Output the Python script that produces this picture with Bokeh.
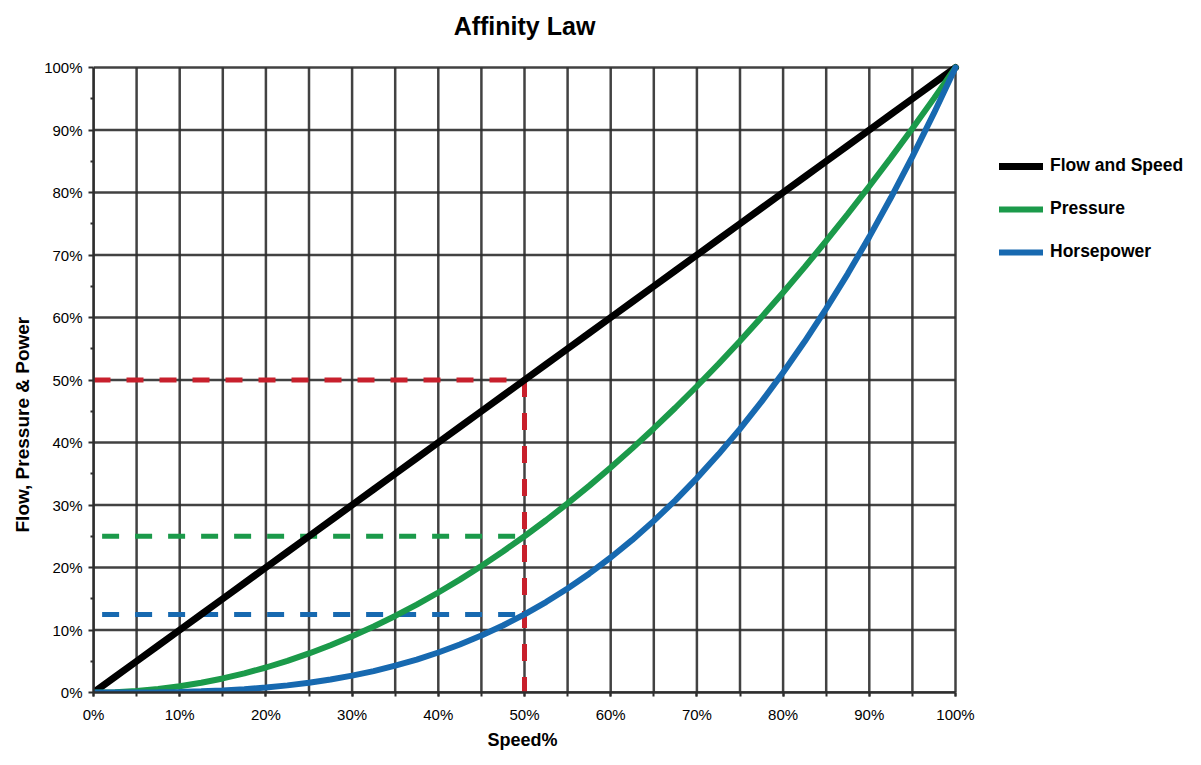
from bokeh.plotting import figure
from bokeh.models import Range1d, FixedTicker, Legend, LegendItem, Label, Title
from bokeh.embed import file_html
from bokeh.resources import INLINE

# ---- data ----
speed = [0, 2.5, 5, 7.5, 10, 12.5, 15, 17.5, 20, 22.5, 25, 27.5, 30, 32.5, 35, 37.5, 40, 42.5,
         45, 47.5, 50, 52.5, 55, 57.5, 60, 62.5, 65, 67.5, 70, 72.5, 75, 77.5, 80, 82.5, 85,
         87.5, 90, 92.5, 95, 97.5, 100]
flow = [0, 2.5, 5, 7.5, 10, 12.5, 15, 17.5, 20, 22.5, 25, 27.5, 30, 32.5, 35, 37.5, 40, 42.5,
        45, 47.5, 50, 52.5, 55, 57.5, 60, 62.5, 65, 67.5, 70, 72.5, 75, 77.5, 80, 82.5, 85,
        87.5, 90, 92.5, 95, 97.5, 100]
pressure = [0, 0.06, 0.25, 0.56, 1, 1.56, 2.25, 3.06, 4, 5.06, 6.25, 7.56, 9, 10.56, 12.25,
            14.06, 16, 18.06, 20.25, 22.56, 25, 27.56, 30.25, 33.06, 36, 39.06, 42.25, 45.56,
            49, 52.56, 56.25, 60.06, 64, 68.06, 72.25, 76.56, 81, 85.56, 90.25, 95.06, 100]
horsepower = [0, 0.002, 0.013, 0.042, 0.1, 0.195, 0.34, 0.54, 0.8, 1.14, 1.56, 2.08, 2.7, 3.43,
              4.29, 5.27, 6.4, 7.68, 9.11, 10.72, 12.5, 14.47, 16.64, 19.01, 21.6, 24.41, 27.46,
              30.75, 34.3, 38.11, 42.19, 46.54, 51.2, 56.15, 61.41, 66.99, 72.9, 79.15, 85.74,
              92.69, 100]

ref_speed = 50
ref_flow = 50
ref_pressure = 25
ref_hp = 12.5
ref_start = 1

x_ticks = [0, 10, 20, 30, 40, 50, 60, 70, 80, 90, 100]
x_grid = [0, 5, 10, 15, 20, 25, 30, 35, 40, 45, 50, 55, 60, 65, 70, 75, 80, 85, 90, 95, 100]
y_ticks = [0, 10, 20, 30, 40, 50, 60, 70, 80, 90, 100]
y_minor = [5, 15, 25, 35, 45, 55, 65, 75, 85, 95]
x_min, x_max = 0, 100
y_min, y_max = 0, 100

BLACK = "#000000"
GREEN = "#1b9a4a"
BLUE = "#1769b0"
RED = "#c8202c"
GRID = "#2e2e2e"
FONT = "Liberation Sans"

# ---- layout (pixels) ----
W, H = 1185, 757
LEFT, BOTTOM = 93, 65
PLOT_W, PLOT_H = 862, 625      # pixel size of the 0..100 % area
PLOT_TOP = 67                   # pixel row of the 100 % line
FRAME_W = W - LEFT              # frame runs to the right edge (legend inside)
FRAME_H = H - BOTTOM            # frame runs to the top edge (title inside)
x_end = 100 * FRAME_W / PLOT_W
y_end = 100 * FRAME_H / PLOT_H
px_y = 100 / PLOT_H             # data units per pixel, vertically
title_y = 100 + (PLOT_TOP - 25) * px_y

p = figure(width=W, height=H, output_backend="svg", toolbar_location=None,
           x_range=Range1d(0, x_end), y_range=Range1d(0, y_end),
           min_border_left=LEFT, min_border_right=0, min_border_top=0, min_border_bottom=BOTTOM)
p.outline_line_color = None
p.background_fill_color = "white"
p.xgrid.visible = False
p.ygrid.visible = False

for ax in (p.xaxis[0], p.yaxis[0]):
    ax.axis_line_color = GRID
    ax.axis_line_width = 2.5
    ax.major_tick_line_color = GRID
    ax.major_tick_line_width = 2
    ax.minor_tick_line_color = GRID
    ax.minor_tick_line_width = 2
    ax.major_tick_in = 0
    ax.minor_tick_in = 0
    ax.major_label_text_font = FONT
    ax.major_label_text_font_size = "15px"
    ax.major_label_text_color = "black"

p.xaxis.bounds = (x_min, x_max)
p.xaxis.ticker = FixedTicker(ticks=x_ticks, minor_ticks=x_grid)
p.xaxis.major_label_overrides = {t: f"{t}%" for t in x_ticks}
p.xaxis.major_tick_out = 4
p.xaxis.minor_tick_out = 4
p.xaxis.major_label_standoff = 9

p.yaxis.bounds = (y_min, y_max)
p.yaxis.ticker = FixedTicker(ticks=y_ticks, minor_ticks=y_minor)
p.yaxis.major_label_overrides = {t: f"{t}%" for t in y_ticks}
p.yaxis.major_tick_out = 5
p.yaxis.minor_tick_out = 3
p.yaxis.major_label_standoff = 6

# axis titles placed as side-panel titles so they can sit where the reference has them
ytitle = Title(text="Flow, Pressure & Power", align="left", offset=160, standoff=16,
               vertical_align="middle", text_font=FONT, text_font_size="19px",
               text_font_style="bold", text_color="black")
p.add_layout(ytitle, "left")
xtitle = Title(text="Speed%", align="left", offset=394, standoff=6,
               vertical_align="middle", text_font=FONT, text_font_size="18px",
               text_font_style="bold", text_color="black")
p.add_layout(xtitle, "below")

# grid: vertical lines every 5 %, horizontal every 10 %, limited to the 0..100 % square
vg = p.segment(x0=x_grid, x1=x_grid, y0=[y_min] * len(x_grid), y1=[y_max] * len(x_grid),
               line_color=GRID, line_width=2.5, line_alpha=0.9)
hg = p.segment(x0=[x_min] * len(y_ticks), x1=[x_max] * len(y_ticks), y0=y_ticks, y1=y_ticks,
               line_color=GRID, line_width=2.5, line_alpha=0.9)
vg.level = "underlay"
hg.level = "underlay"

# reference dashed lines
p.line([0, ref_speed], [ref_flow, ref_flow], line_color=RED, line_width=5, line_dash="17 16")
p.line([ref_speed, ref_speed], [ref_flow, 0], line_color=RED, line_width=5, line_dash="17 16")
p.line([ref_start, ref_speed], [ref_pressure, ref_pressure], line_color=GREEN, line_width=5, line_dash="17 16")
p.line([ref_start, ref_speed], [ref_hp, ref_hp], line_color=BLUE, line_width=5, line_dash="17 16")

r_flow = p.line(speed, flow, line_color=BLACK, line_width=7, line_cap="round")
r_press = p.line(speed, pressure, line_color=GREEN, line_width=6, line_cap="round")
r_hp = p.line(speed, horsepower, line_color=BLUE, line_width=6, line_cap="round")

title = Label(x=(x_min + x_max) / 2, y=title_y, text="Affinity Law",
              text_align="center", text_baseline="middle",
              text_font=FONT, text_font_size="25px", text_font_style="bold", text_color="black")
p.add_layout(title)

legend = Legend(items=[LegendItem(label="Flow and Speed", renderers=[r_flow]),
                       LegendItem(label="Pressure", renderers=[r_press]),
                       LegendItem(label="Horsepower", renderers=[r_hp])],
                location=(906, 430))
legend.padding = 0
legend.margin = 0
legend.border_line_alpha = 0
legend.background_fill_alpha = 0
legend.glyph_width = 44
legend.glyph_height = 20
legend.label_height = 20
legend.spacing = 22
legend.label_standoff = 7
legend.label_text_font = FONT
legend.label_text_font_size = "17.5px"
legend.label_text_font_style = "bold"
legend.label_text_color = "black"
p.add_layout(legend)

open("out.html", "w").write(file_html(p, INLINE))
